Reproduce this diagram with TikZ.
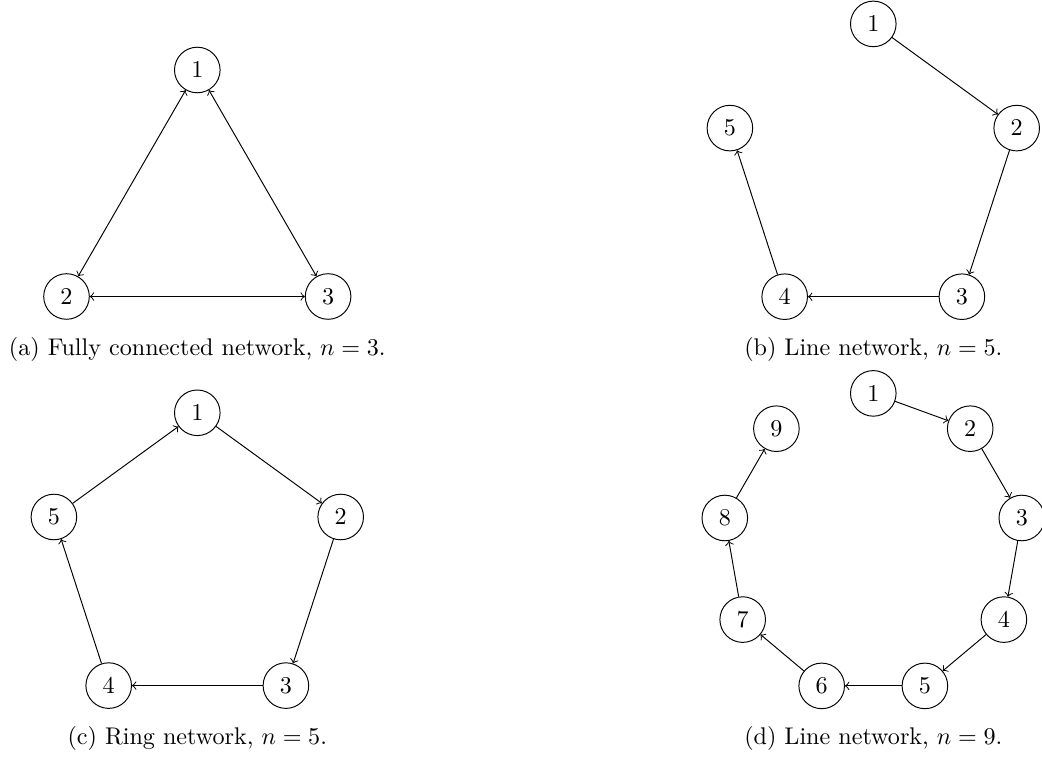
\documentclass[tikz,border=0pt]{standalone}
\begin{document}
\begin{tikzpicture}[x=0.4146pt,y=-0.4146pt,
  vtx/.style={circle,draw,minimum size=18.9pt,inner sep=0pt},
  arr/.style={->},
  barr/.style={<->},
  captext/.style={anchor=base,inner sep=0pt}]
\useasboundingbox (0,0) rectangle (1042,759);
% (a)
\node[vtx] (a1) at (197.3,70) {$1$};
\node[vtx] (a2) at (66.5,296.5) {$2$};
\node[vtx] (a3) at (328.1,296.5) {$3$};
\draw[barr] (a1) -- (a2);
\draw[barr] (a1) -- (a3);
\draw[barr] (a2) -- (a3);
\node[captext] (capa) at (197.3,356) {(a) Fully connected network, $n=3$.};
% (b)
\node[vtx] (b1) at (873.3,23.9) {$1$};
\node[vtx] (b2) at (1016.7,128.1) {$2$};
\node[vtx] (b3) at (961.9,296.7) {$3$};
\node[vtx] (b4) at (784.7,296.7) {$4$};
\node[vtx] (b5) at (729.9,128.1) {$5$};
\draw[arr] (b1) -- (b2);
\draw[arr] (b2) -- (b3);
\draw[arr] (b3) -- (b4);
\draw[arr] (b4) -- (b5);
\node[captext] (capb) at (873.3,356) {(b) Line network, $n=5$.};
% (c)
\node[vtx] (c1) at (197.3,412.8) {$1$};
\node[vtx] (c2) at (340.7,517.0) {$2$};
\node[vtx] (c3) at (285.9,685.6) {$3$};
\node[vtx] (c4) at (108.7,685.6) {$4$};
\node[vtx] (c5) at (53.9,517.0) {$5$};
\draw[arr] (c1) -- (c2);
\draw[arr] (c2) -- (c3);
\draw[arr] (c3) -- (c4);
\draw[arr] (c4) -- (c5);
\draw[arr] (c5) -- (c1);
\node[captext] (capc) at (197.3,745) {(c) Ring network, $n=5$.};
% (d)
\node[vtx] (d1) at (873.3,393.4) {$1$};
\node[vtx] (d2) at (970.2,428.7) {$2$};
\node[vtx] (d3) at (1021.8,518.0) {$3$};
\node[vtx] (d4) at (1003.9,619.6) {$4$};
\node[vtx] (d5) at (924.9,685.9) {$5$};
\node[vtx] (d6) at (821.7,685.9) {$6$};
\node[vtx] (d7) at (742.7,619.6) {$7$};
\node[vtx] (d8) at (724.8,518.0) {$8$};
\node[vtx] (d9) at (776.4,428.7) {$9$};
\draw[arr] (d1) -- (d2);
\draw[arr] (d2) -- (d3);
\draw[arr] (d3) -- (d4);
\draw[arr] (d4) -- (d5);
\draw[arr] (d5) -- (d6);
\draw[arr] (d6) -- (d7);
\draw[arr] (d7) -- (d8);
\draw[arr] (d8) -- (d9);
\node[captext] (capd) at (873.3,745) {(d) Line network, $n=9$.};
\end{tikzpicture}
\end{document}
